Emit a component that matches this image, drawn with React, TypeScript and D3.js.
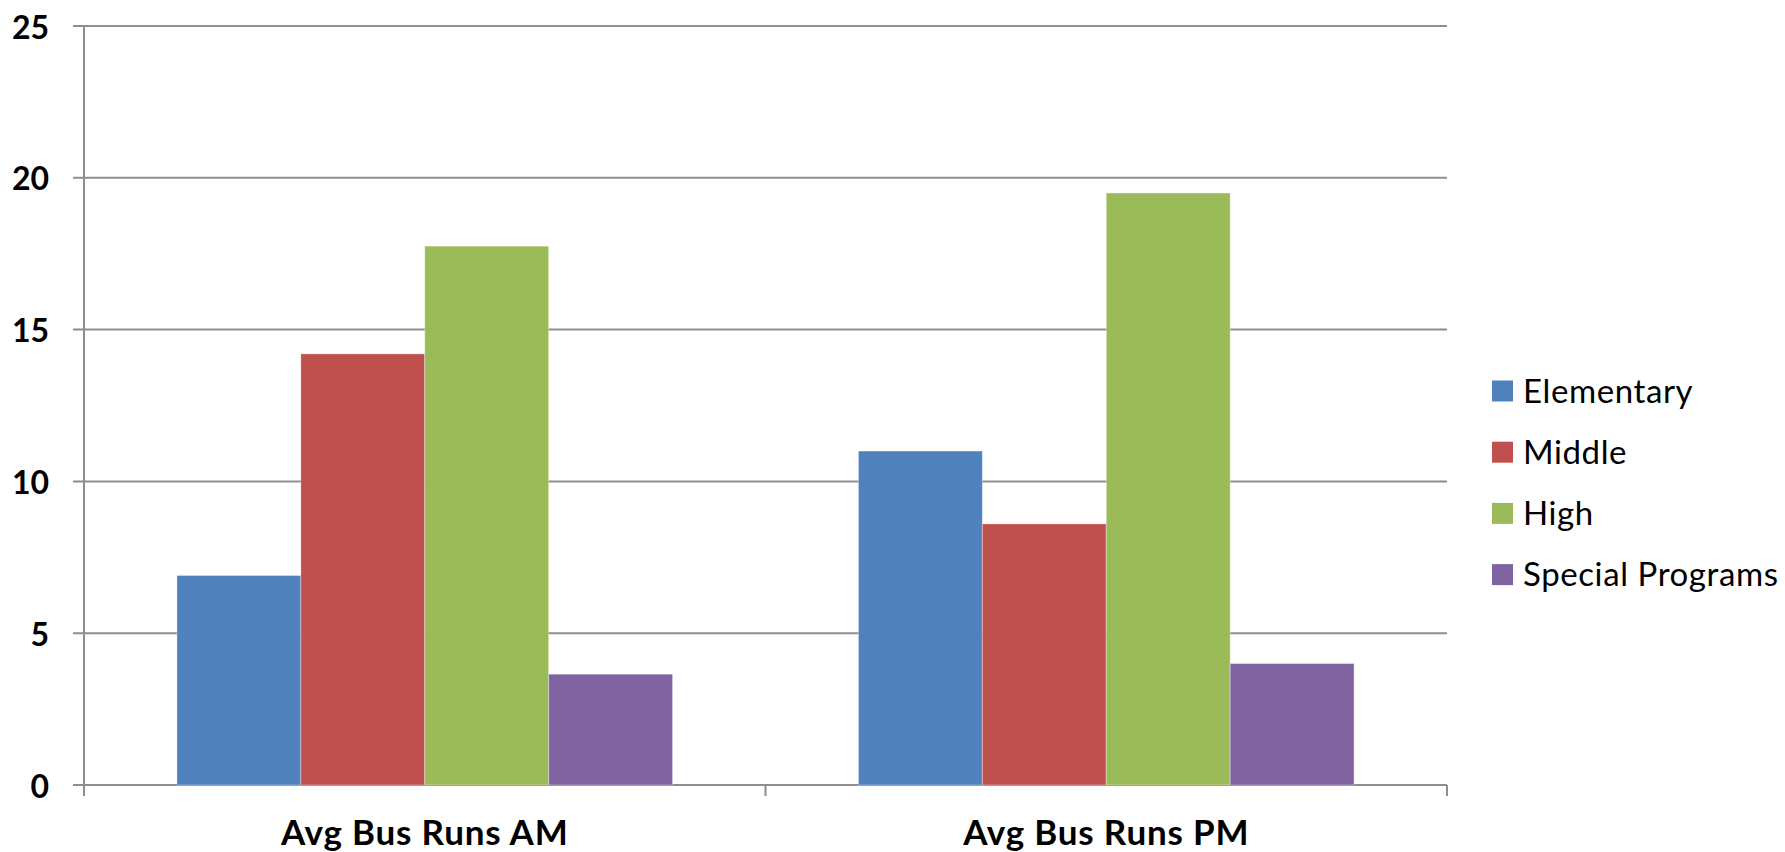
import React from "react";
import * as d3 from "d3";

const categories = ["Avg Bus Runs AM", "Avg Bus Runs PM"];
const seriesNames = ["Elementary", "Middle", "High", "Special Programs"];
const seriesColors = ["#4F81BD", "#C0504D", "#9BBB59", "#8064A2"];
const elementary = [6.9, 11.0];
const middle = [14.2, 8.6];
const high = [17.75, 19.5];
const specialPrograms = [3.65, 4.0];
const yTicks = [0, 5, 10, 15, 20, 25];

const seriesValues = [elementary, middle, high, specialPrograms];

const W = 1785;
const H = 852;
const plotLeft = 84;
const plotRight = 1447;
const plotTop = 26;
const plotBottom = 785;
const FONT = "Lato, 'Open Sans', sans-serif";
const GRID = "#8e8e8e";

export default function App() {
  const x0 = d3.scaleBand<string>().domain(categories).range([plotLeft, plotRight]).padding(0);
  const x1 = d3
    .scaleBand<string>()
    .domain(seriesNames)
    .range([0, x0.bandwidth()])
    .paddingInner(0)
    .paddingOuter(0.75);
  const y = d3.scaleLinear().domain([0, 25]).range([plotBottom, plotTop]);

  const legendX = 1492;
  const legendY0 = 391;
  const legendStep = 61.2;

  const xTickPositions = [...categories.map((c) => x0(c)!), plotRight];

  return (
    <div style={{ position: "absolute", left: 0, top: 0 }}>
      <svg width={W} height={H} style={{ display: "block", background: "#fff" }}>
        {yTicks.map((t) => (
          <line
            key={"g" + t}
            x1={plotLeft - 11}
            x2={plotRight}
            y1={y(t)}
            y2={y(t)}
            stroke={GRID}
            strokeWidth={2}
          />
        ))}
        <line x1={plotLeft} x2={plotLeft} y1={plotTop} y2={plotBottom + 11} stroke={GRID} strokeWidth={2} />
        {xTickPositions.map((px, i) => (
          <line key={"xt" + i} x1={px} x2={px} y1={plotBottom} y2={plotBottom + 11} stroke={GRID} strokeWidth={2} />
        ))}
        {categories.map((c, ci) => (
          <g key={c} transform={`translate(${x0(c)},0)`}>
            {seriesNames.map((s, si) => {
              const v = seriesValues[si][ci];
              return (
                <rect
                  key={s}
                  x={x1(s)!}
                  y={y(v)}
                  width={x1.bandwidth()}
                  height={y(0) - y(v)}
                  fill={seriesColors[si]}
                  stroke="#ffffff"
                  strokeOpacity={0.35}
                  strokeWidth={1}
                />
              );
            })}
          </g>
        ))}
        {yTicks.map((t) => (
          <text
            key={"yl" + t}
            x={49}
            y={y(t)}
            textAnchor="end"
            dominantBaseline="central"
            fontFamily={FONT}
            fontWeight="bold"
            fontSize={32}
            fill="#000"
          >
            {t}
          </text>
        ))}
        {categories.map((c) => (
          <text
            key={"cl" + c}
            x={x0(c)! + x0.bandwidth() / 2}
            y={845}
            textAnchor="middle"
            fontFamily={FONT}
            fontWeight="bold"
            fontSize={35}
            letterSpacing={0.8}
            fill="#000"
          >
            {c}
          </text>
        ))}
        {seriesNames.map((s, i) => (
          <g key={"lg" + s} transform={`translate(${legendX},${legendY0 + i * legendStep})`}>
            <rect x={0} y={-10.5} width={21} height={21} fill={seriesColors[i]} />
            <text x={31} y={11.5} fontFamily={FONT} fontSize={33} letterSpacing={0.6} fill="#000">
              {s}
            </text>
          </g>
        ))}
      </svg>
    </div>
  );
}
